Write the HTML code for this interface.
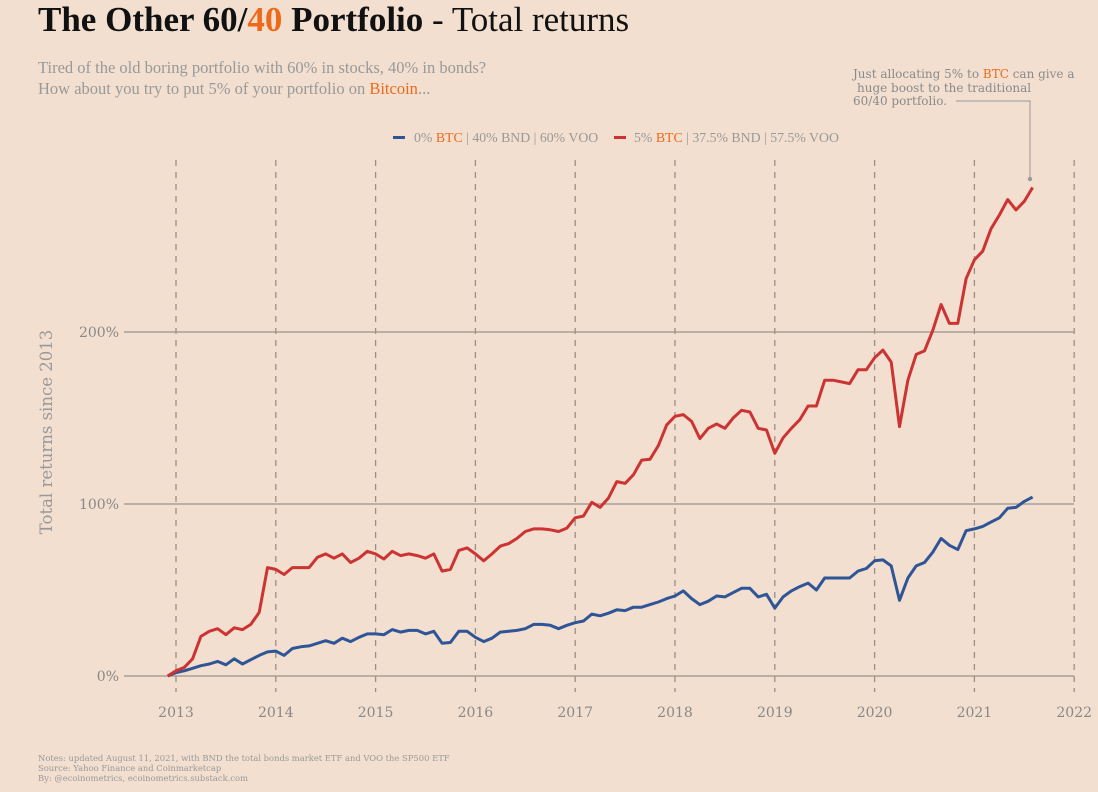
<!DOCTYPE html>
<html><head><meta charset="utf-8"><style>
html,body{margin:0;padding:0;background:#f2dfcf;}
svg{display:block;font-family:"DejaVu Serif","Liberation Serif",serif;}
</style></head><body>
<svg id="chart" width="1098" height="792" viewBox="0 0 1098 792">
<rect width="1098" height="792" fill="#f2dfcf"/>
<text x="38" y="31" font-family="Liberation Serif, serif" font-size="35" fill="#111"><tspan font-weight="bold">The Other 60/</tspan><tspan font-weight="bold" fill="#ee6a1a">40</tspan><tspan font-weight="bold"> Portfolio</tspan><tspan> - Total returns</tspan></text>
<text x="38" y="73" font-family="Liberation Serif, serif" font-size="16.5" fill="#999">Tired of the old boring portfolio with 60% in stocks, 40% in bonds?</text>
<text x="38" y="94" font-family="Liberation Serif, serif" font-size="16.5" fill="#999">How about you try to put 5% of your portfolio on <tspan fill="#ee6a1a">Bitcoin</tspan>...</text>
<g>
<rect x="393" y="136" width="12" height="3" fill="#2f5597"/>
<text x="414" y="142" font-family="Liberation Serif, serif" font-size="13.8" fill="#999">0% <tspan fill="#ee6a1a">BTC</tspan> | 40% BND | 60% VOO</text>
<rect x="614" y="136" width="12" height="3" fill="#cc3333"/>
<text x="634" y="142" font-family="Liberation Serif, serif" font-size="13.8" fill="#999">5% <tspan fill="#ee6a1a">BTC</tspan> | 37.5% BND | 57.5% VOO</text>
</g>
<g>
<text font-size="12" fill="#8a8a8a"><tspan x="853" y="78">Just allocating 5% to <tspan fill="#ee6a1a">BTC</tspan> can give a</tspan><tspan x="857" y="92">huge boost to the traditional</tspan><tspan x="853" y="105">60/40 portfolio.</tspan></text>
<polyline points="956,101 1030,101 1030,179" fill="none" stroke="#999" stroke-width="1"/>
<circle cx="1030" cy="179" r="2.2" fill="#999"/>
</g>
<text transform="translate(52,432) rotate(-90)" text-anchor="middle" font-size="16.5" fill="#999">Total returns since 2013</text>
<g id="grid"></g><g id="series"></g>
<text x="38" y="761" font-size="8.4" fill="#999">Notes: updated August 11, 2021, with BND the total bonds market ETF and VOO the SP500 ETF</text>
<text x="38" y="771" font-size="8.4" fill="#999">Source: Yahoo Finance and Coinmarketcap</text>
<text x="38" y="781" font-size="8.4" fill="#999">By: @ecoinometrics, ecoinometrics.substack.com</text>
</svg>
<script>
const years=[2013,2014,2015,2016,2017,2018,2019,2020,2021,2022];
const yTicks=[0,100,200];
const startYear=2012+11/12; // Dec 2012
const btc5=[0,3,5,10,23,26,27.5,24,28,27,30,37,63,62,59,63,63,63,69,71,68.5,71,66,68.5,72.5,71,68,72.5,70,71,70,68.5,71,61,62,73,74.5,71,67,71,75.5,77,80,84,85.5,85.5,85,84,86,92,93,101,98,103.5,113,112,117,125.5,126,134,146,151,152,148,138,144,146.5,144,150,154.5,153.5,144,143,129.5,138.5,144,149,157,157,172,172,171,170,178,178,185,189.5,182.5,145,172,187,189,201,216,205,205,231,242,247,260,268,277,271,276,284];
const btc0=[0,2,3,4.5,6,7,8.5,6.5,10,7,9.5,12,14,14.5,12,16,17,17.5,19,20.5,19,22,20,22.5,24.5,24.5,24,27,25.5,26.5,26.5,24.5,26,19,19.5,26,26,22.5,20,22,25.5,26,26.5,27.5,30,30,29.5,27.5,29.5,31,32,36,35,36.5,38.5,38,40,40,41.5,43,45,46.5,49.5,45,41.5,43.5,46.5,46,48.5,51,51,46,47.5,39.5,46,49.5,52,54,50,57,57,57,57,61,62.5,67,67.5,64,44,57,64,66,72,80,76,73.5,84.5,85.5,87,89.5,92,97.5,98,101.5,104];
const X=t=>176+(t-2013)*99.8;
const Y=v=>676-v*1.72;
const NS='http://www.w3.org/2000/svg';
const grid=document.getElementById('grid'),ser=document.getElementById('series');
function mk(tag,attrs,parent){const e=document.createElementNS(NS,tag);for(const k in attrs)e.setAttribute(k,attrs[k]);parent.appendChild(e);return e;}
years.forEach(yr=>{
 const l=mk('line',{x1:X(yr),x2:X(yr),y1:160,y2:692,stroke:'#9a8f87','stroke-width':1.3,'stroke-dasharray':'6,6'},grid);
 
 
 const t=mk('text',{x:X(yr),y:717,'text-anchor':'middle','font-size':14,fill:'#888'},grid);
 t.textContent=yr;
 
 
});
yTicks.forEach(v=>{
 const l=mk('line',{x1:124,x2:1074,y1:Y(v),y2:Y(v),stroke:'#9a918b','stroke-width':1.2},grid);
 
 
 const t=mk('text',{x:119,y:Y(v)+5,'text-anchor':'end','font-size':14,fill:'#888'},grid);
 t.textContent=v+'%';
 
 
});
function line(arr,color,name){
 const pts=arr.map((v,i)=>X(startYear+i/12).toFixed(1)+','+Y(v).toFixed(1)).join(' ');
 const p=mk('polyline',{points:pts,fill:'none',stroke:color,'stroke-width':3,'stroke-linejoin':'round'},ser);
 
 
}
line(btc0,'#2f5597','line-0pct-btc');
line(btc5,'#cc3333','line-5pct-btc');
</script>
</body></html>
